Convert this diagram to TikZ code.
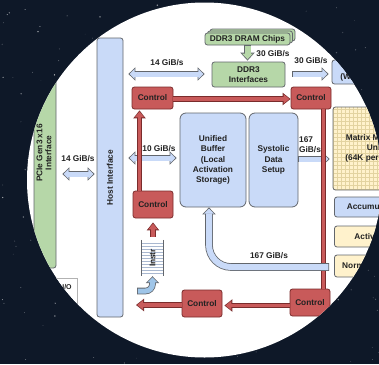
\documentclass[tikz,border=0pt]{standalone}
\usepackage{fontspec}
\setmainfont{Liberation Sans}
\usetikzlibrary{arrows.meta,calc}
\definecolor{bgdark}{HTML}{0E1828}
\definecolor{ubblue}{HTML}{C9DAF8}
\definecolor{edgegray}{HTML}{62666C}
\definecolor{grn}{HTML}{B6D7A8}
\definecolor{ctlred}{HTML}{C85A5A}
\definecolor{ctledge}{HTML}{7A2C2C}
\definecolor{yel}{HTML}{FFF2CC}
\definecolor{gridc}{HTML}{E3D3A0}
\definecolor{instrblue}{HTML}{9FC5E8}
\definecolor{txt}{HTML}{222222}
\definecolor{stripe}{HTML}{A9B8D0}
\newcommand{\lbl}{\fontsize{8.3}{10.3}\selectfont\bfseries}
\tikzset{
  BOut/.tip={Triangle[length=7pt,width=13pt]},
  BIn/.tip={Triangle[length=5pt,width=9.6pt]},
  ROut/.tip={Triangle[length=8pt,width=12pt]},
  RIn/.tip={Triangle[length=5.8pt,width=9pt]},
  GOut/.tip={Triangle[length=8pt,width=14pt]},
  GIn/.tip={Triangle[length=5.8pt,width=10.6pt]},
  barrow/.style={line width=5pt, draw=#1, -BIn, shorten >=1.2pt, shorten <=0.8pt,
     preaction={draw=edgegray, line width=6.6pt, -BOut, shorten >=0pt, shorten <=0pt}},
  barrow/.default=ubblue,
  bwide/.style={line width=6pt, draw=ubblue, -BIn, shorten >=1.2pt, shorten <=0.8pt,
     preaction={draw=edgegray, line width=7.6pt, -BOut, shorten >=0pt, shorten <=0pt}},
  bdarrow/.style={line width=5pt, draw=ubblue, BIn-BIn, shorten >=1.2pt, shorten <=1.2pt,
     preaction={draw=edgegray, line width=6.6pt, BOut-BOut, shorten >=0pt, shorten <=0pt}},
  garrow/.style={line width=6pt, draw=grn, -GIn, shorten >=1.3pt, shorten <=0.8pt,
     preaction={draw=edgegray, line width=7.6pt, -GOut, shorten >=0pt, shorten <=0pt}},
  rarrow/.style={line width=3.8pt, draw=ctlred, -RIn, shorten >=1.2pt,
     preaction={draw=ctledge, line width=5.2pt, -ROut, shorten >=0pt}},
  rline/.style={line width=3.8pt, draw=ctlred, preaction={draw=ctledge, line width=5.2pt}},
  box/.style={draw=edgegray, line width=0.8pt, rounded corners=2.5pt, inner sep=0pt,
     font=\lbl, align=center, text=txt},
  ubox/.style={box, fill=ubblue},
  gbox/.style={box, fill=grn},
  ybox/.style={box, fill=yel},
  cbox/.style={box, fill=ctlred, draw=ctledge, minimum width=40pt},
  lab/.style={font=\lbl, text=txt, inner sep=0pt, align=center},
}
\begin{document}
\begin{tikzpicture}[x=1pt,y=-1pt]
\useasboundingbox (0,0) rectangle (379,364);
% starry background
\fill[bgdark] (0,0) rectangle (379,364);
\pgfmathsetseed{42}
\foreach \i in {1,...,200}{
  \pgfmathsetmacro{\sx}{rnd*379}
  \pgfmathsetmacro{\sy}{rnd*364}
  \pgfmathsetmacro{\so}{0.15+0.6*rnd}
  \pgfmathsetmacro{\sr}{0.3+0.5*rnd}
  \fill[white, opacity=\so] (\sx,\sy) circle[radius=\sr pt];
}
\fill[white] (204.5,180) circle[radius=177.5pt];
\begin{scope}
\clip (204.5,180) circle[radius=177.5pt];

% boxes
\node[gbox, minimum width=22pt, minimum height=230pt] (pcie) at (45,153)
  {\rotatebox{90}{\def\arraystretch{0.87}\begin{tabular}{@{}c@{}}PCIe Gen3 x16\\Interface\end{tabular}}};
\node[ubox, minimum width=26pt, minimum height=279pt] (host) at (110,177.5) {\rotatebox{90}{Host Interface}};
\node[draw=gray!60, line width=0.7pt, fill=white, minimum width=22pt, minimum height=44pt, inner sep=0pt] (io) at (66,300) {};
\node[lab, font=\fontsize{7}{8}\selectfont\bfseries] (iolbl) at (67,287) {I/O};

\node[gbox, minimum width=85pt, minimum height=12pt] (chipsC) at (252.5,35) {};
\node[gbox, minimum width=85pt, minimum height=12pt] (chipsB) at (250,37) {};
\node[gbox, minimum width=85pt, minimum height=12pt] (chips) at (247.5,39) {DDR3 DRAM Chips};
\node[gbox, minimum width=73pt, minimum height=25pt] (ddrif) at (248.5,74.5) {DDR3\\Interfaces};
\node[ubox, minimum width=82pt, minimum height=24pt] (wfifo) at (373,72) {Weight FIFO\\(Weight Fetcher)};

\node[cbox, minimum width=41pt, minimum height=22pt] (ctlA) at (152.5,98) {Control};
\node[cbox, minimum height=22pt] (ctlB) at (311,98) {Control};
\node[cbox, minimum height=27pt] (ctlC) at (153,204.5) {Control};
\node[cbox, minimum height=27pt] (ctlD) at (202,303.5) {Control};
\node[cbox, minimum height=27pt] (ctlE) at (310,302.5) {Control};

\node[ubox, rounded corners=6pt, minimum width=66pt, minimum height=94pt] (ubuf) at (213,160)
  {Unified\\Buffer\\(Local\\Activation\\Storage)};
\node[ubox, rounded corners=6pt, minimum width=49pt, minimum height=94pt] (sds) at (273.5,160)
  {Systolic\\Data\\Setup};
\node[ybox, minimum width=84pt, minimum height=83pt,
  path picture={\draw[gridc, line width=0.5pt] (path picture bounding box.south west) grid[step=4pt] (path picture bounding box.north east);}]
  (mmu) at (375,148.5) {Matrix Multiply\\Unit\\(64K per cycle)};
\node[ubox, minimum width=80pt, minimum height=20pt] (acc) at (374.5,207) {Accumulators};
\node[ybox, minimum width=80pt, minimum height=21pt] (act) at (374.5,236.5) {Activation};
\node[ybox, minimum width=80pt, minimum height=22pt] (norm) at (374.5,266) {Normalize / Pool};

\node[fill=white, minimum width=21pt, minimum height=36pt, inner sep=0pt, font=\lbl, text=txt,
  path picture={\foreach \k in {1,...,11} \draw[stripe, line width=0.6pt]
     ([yshift=-\k*3pt]path picture bounding box.north west) -- ([yshift=-\k*3pt]path picture bounding box.north east);}]
  (instr) at (152.5,258) {\rotatebox{90}{Instr}};
\draw[edgegray, line width=0.8pt] (instr.north west) -- (instr.south west);
\draw[edgegray, line width=0.8pt] (instr.north east) -- (instr.south east);

% labels
\node[lab] (lab14a) at (78,159) {14 GiB/s};
\node[lab] (lab14b) at (167,63) {14 GiB/s};
\node[lab] (lab10) at (159,149) {10 GiB/s};
\node[lab] (lab30a) at (273,54) {30 GiB/s};
\node[lab] (lab30b) at (311,61) {30 GiB/s};
\node[lab, anchor=west, align=left] (lab167a) at (299,145) {167\\GiB/s};
\node[lab] (lab167b) at (269,256) {167 GiB/s};

% connectors
\coordinate (redout) at (136,305);
\coordinate (instrin) at (137,291);
\draw[bdarrow] ($(pcie.east)+(6,21)$) -- ($(host.west)+(-2,-3.5)$);
\draw[bdarrow] ($(host.east)+(5,-103.5)$) -- ($(ddrif.west)+(-7,-0.5)$);
\draw[garrow] (chips.south) -- ($(ddrif.north)+(-1,-1)$);
\draw[barrow] ($(ddrif.east)+(7,-0.5)$) -- ($(wfifo.west)+(-3,2)$);
\draw[bdarrow] ($(host.east)+(5,-19.5)$) -- ($(ubuf.west)+(-3,-2)$);
\draw[rarrow] ($(ctlA.east)+(0,1)$) -- ($(ctlB.west)+(0,1)$);
\draw[rarrow] ($(ctlC.north)+(-13.5,0)$) -- ($(ctlA.south)+(-13,1)$);
\draw[rarrow] ($(instr.north)+(0.5,-3)$) -- ($(ctlC.south)+(0,4)$);
\draw[barrow] ($(sds.east)+(0,-1)$) -- ($(mmu.west)+(-3,10.5)$);
\draw[rline] ($(ctlB.south)+(12.5,0)$) -- ($(ctlE.north)+(13.5,0)$);
\draw[rarrow] ($(ctlE.west)+(0,3)$) -- ($(ctlD.east)+(2,2)$);
\draw[rarrow] ($(ctlD.west)+(0,1.5)$) -- (redout);
\draw[barrow=instrblue, rounded corners=7pt] (instrin) -| (instr.south);
\draw[bwide, rounded corners=22pt] ($(norm.west)+(-5,1)$) -| ($(ubuf.south)+(-4,0)$);
\end{scope}
\end{tikzpicture}
\end{document}
